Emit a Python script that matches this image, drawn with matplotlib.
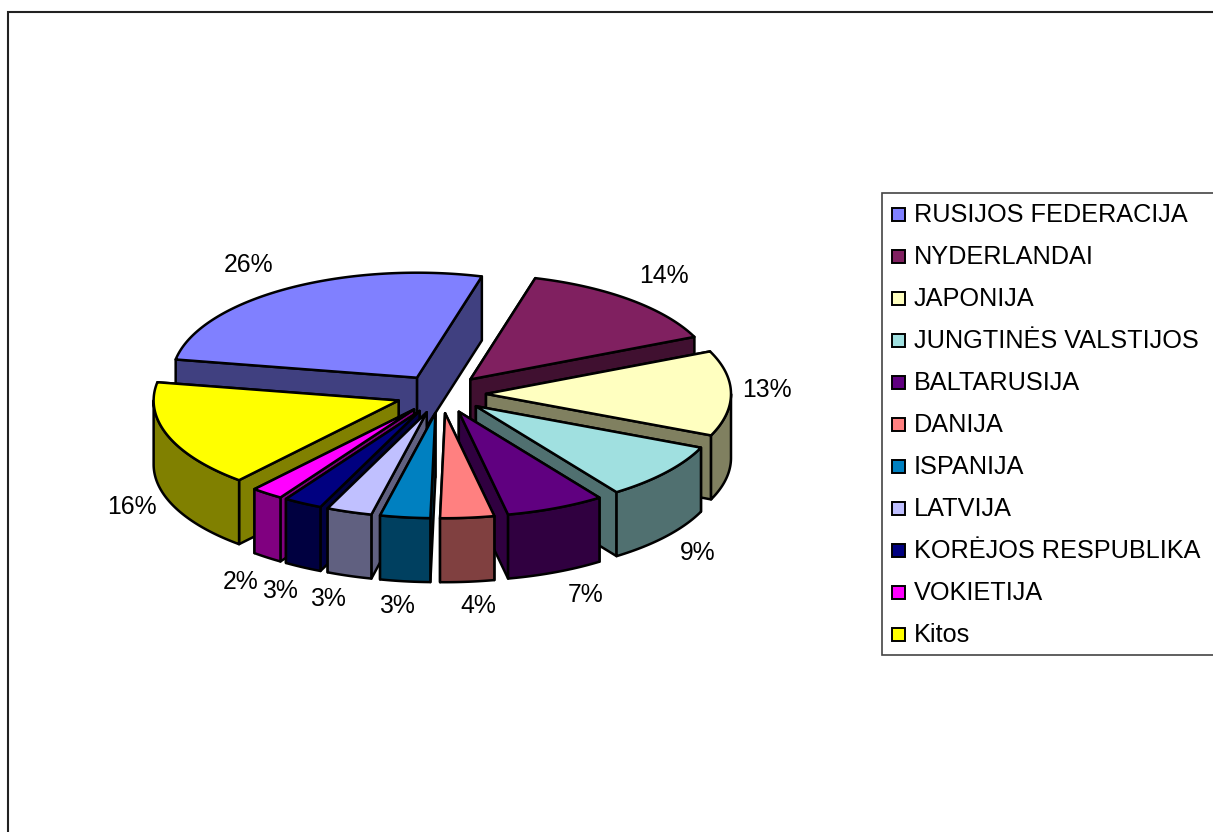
import numpy as np
import matplotlib
matplotlib.use("Agg")
import matplotlib.pyplot as plt
from matplotlib.patches import Polygon, Rectangle
from matplotlib.colors import to_rgb

countries = ["RUSIJOS FEDERACIJA", "NYDERLANDAI", "JAPONIJA", "JUNGTINĖS VALSTIJOS",
             "BALTARUSIJA", "DANIJA", "ISPANIJA", "LATVIJA", "KORĖJOS RESPUBLIKA",
             "VOKIETIJA", "Kitos"]
shares = [26.49, 14.1, 13.1, 8.8, 6.51, 3.55, 3.3, 3.0, 2.55, 2.11, 16.49]
colors = ["#8080FF", "#802060", "#FFFFC0", "#A0E0E0", "#600080", "#FF8080",
          "#0080C0", "#C0C0FF", "#000080", "#FF00FF", "#FFFF00"]
label_pos = [(249, 265), (664, 276), (767, 390), (698, 553), (586, 595), (478, 606),
             (397, 606), (328, 599), (280, 591), (241, 582), (132, 507)]

plt.rcParams['font.family'] = ['Liberation Sans', 'DejaVu Sans']

# pie geometry, in pixels of the picture
cx, cy = 441, 394
rx, ry = 245, 105
depth = 64
explode = 45
start = -80
lw = 1.8

fig = plt.figure(figsize=(12.13, 8.32), dpi=100)
ax = fig.add_axes([0, 0, 1, 1])
ax.set_xlim(0, 1213)
ax.set_ylim(832, 0)
ax.axis("off")

# chart frame, runs off the picture on the right and bottom
ax.plot([7.5, 7.5, 1213], [832, 11.5, 11.5], color="#222222", lw=1.5, solid_joinstyle="miter")


def poly(pts, color, z):
    ax.add_patch(Polygon(pts, closed=True, facecolor=color, edgecolor="black",
                         lw=lw, joinstyle="round", zorder=z))


def arc(x0, y0, a, b):
    t = np.radians(np.linspace(a, b, max(int(abs(b - a)) * 2, 2)))
    return np.column_stack([x0 + rx * np.sin(t), y0 - ry * np.cos(t)])


edges = start + np.cumsum([0] + shares) * 3.6
slices = []
for i in range(len(shares)):
    a, b = edges[i], edges[i + 1]
    mid = np.radians((a + b) / 2)
    x0 = cx + explode * np.sin(mid)
    y0 = cy - explode * (ry / rx) * np.cos(mid)
    slices.append((y0, x0, a, b, colors[i]))

# back slices first, so the front ones cover them
z = 2
for y0, x0, a, b, col in sorted(slices, key=lambda s: s[0]):
    dark = tuple(c * 0.5 for c in to_rgb(col))
    top = arc(x0, y0, a, b)
    apex = np.array([x0, y0])
    drop = np.array([0, depth])

    # radial cut faces, the one further back goes first
    faces = [top[0], top[-1]]
    faces.sort(key=lambda p: p[1])
    for p in faces:
        poly([apex, p, p + drop, apex + drop], dark, z)
        z += 1

    # outer rim, only the part that faces the viewer
    for shift in (0, 360):
        lo, hi = max(a + shift, 90), min(b + shift, 270)
        if lo < hi:
            rim = arc(x0, y0, lo, hi)
            poly(np.vstack([rim, (rim + drop)[::-1]]), dark, z)
            z += 1

    poly(np.vstack([apex, top]), col, z)
    z += 1

for v, (lx, ly) in zip(shares, label_pos):
    ax.text(lx, ly, f"{v:.0f}%", fontsize=17.8, ha="center", va="center", color="black", zorder=100)

# legend
ax.add_patch(Rectangle((882, 193), 340, 462, facecolor="white", edgecolor="#444444", lw=1.2, zorder=100))
for i, name in enumerate(countries):
    y = 215 + 42 * i
    ax.add_patch(Rectangle((891.5, y - 7), 13, 13, facecolor=colors[i], edgecolor="black", lw=1.4, zorder=101))
    ax.text(914, y, name, fontsize=18.2, ha="left", va="center", color="black", zorder=101)

fig.savefig("out.png", dpi=100)
